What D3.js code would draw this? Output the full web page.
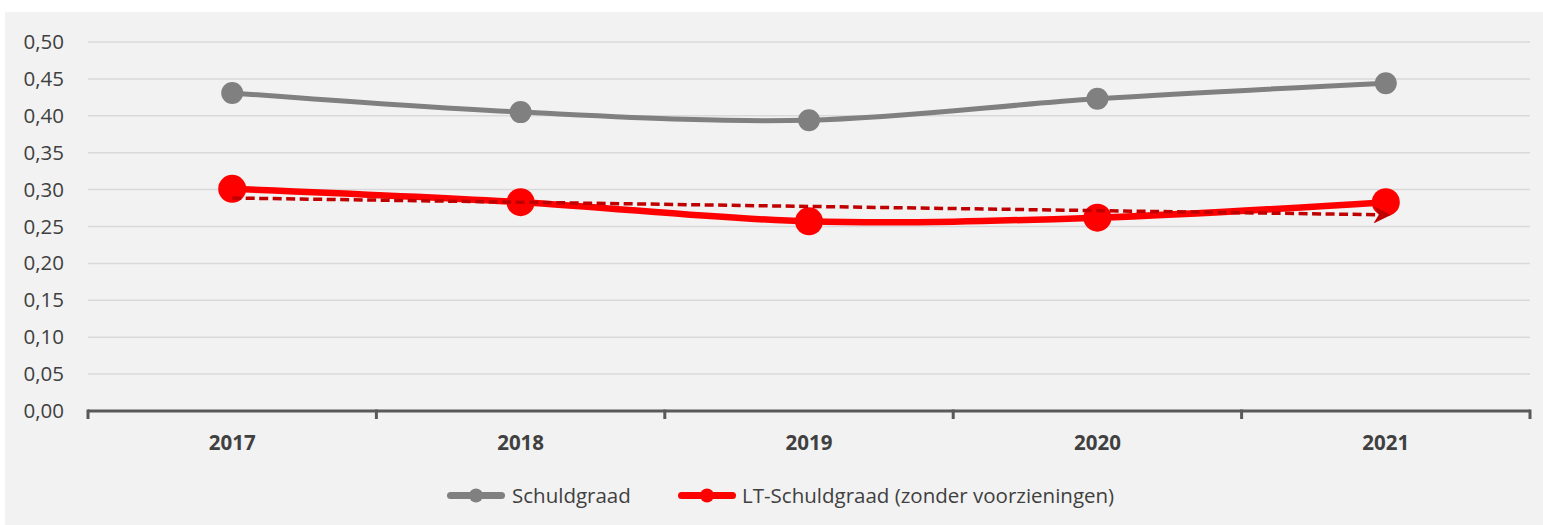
<!DOCTYPE html>
<html>
<head>
<meta charset="utf-8">
<script src="https://cdn.jsdelivr.net/npm/d3@7"></script>
<style>
  html, body { margin: 0; padding: 0; background: #ffffff; }
  svg { display: block; }
  text { font-family: "Open Sans", "Noto Sans", sans-serif; }
</style>
</head>
<body>
<svg id="chart" width="1543" height="525"></svg>
<script>
// Data
const years = ["2017", "2018", "2019", "2020", "2021"];
const schuldgraad = [0.431, 0.405, 0.394, 0.423, 0.444];
const ltSchuldgraad = [0.301, 0.283, 0.257, 0.262, 0.283];
const yTicks = [0, 0.05, 0.10, 0.15, 0.20, 0.25, 0.30, 0.35, 0.40, 0.45, 0.50];
const seriesNames = ["Schuldgraad", "LT-Schuldgraad (zonder voorzieningen)"];

const W = 1543, H = 525;
const plot = { left: 88, right: 1530, top: 42, bottom: 411 };
const FONT = 20.5;

const svg = d3.select("#chart");

// chart background
svg.append("rect")
  .attr("x", 5).attr("y", 12)
  .attr("width", W - 5).attr("height", H - 12)
  .attr("fill", "#f2f2f2");

const x = d3.scaleBand().domain(years).range([plot.left, plot.right]);
const y = d3.scaleLinear().domain([0, 0.5]).range([plot.bottom, plot.top]);
const cx = d => x(d) + x.bandwidth() / 2;

const fmt = v => d3.format(".2f")(v).replace(".", ",");

// horizontal gridlines
svg.append("g")
  .selectAll("line")
  .data(yTicks.filter(t => t > 0))
  .join("line")
  .attr("x1", plot.left).attr("x2", plot.right)
  .attr("y1", d => y(d)).attr("y2", d => y(d))
  .attr("stroke", "#d9d9d9").attr("stroke-width", 1.5);

// y axis labels
const yAxis = d3.axisLeft(y).tickValues(yTicks).tickFormat(fmt).tickSize(0).tickPadding(0);
const gy = svg.append("g").attr("transform", `translate(64,0)`).call(yAxis);
gy.select(".domain").remove();
gy.selectAll("text")
  .attr("font-size", FONT).attr("fill", "#404040")
  .attr("font-family", "'Open Sans', sans-serif");

// x axis
const xAxis = d3.axisBottom(x).tickSize(0).tickPadding(0);
const gx = svg.append("g").attr("transform", `translate(0,${plot.bottom})`).call(xAxis);
gx.select(".domain").remove();
gx.selectAll("text")
  .attr("y", 39).attr("dy", null)
  .attr("font-size", FONT).attr("font-weight", "bold").attr("fill", "#404040")
  .attr("font-family", "'Open Sans', sans-serif");

// axis baseline and category boundary ticks
svg.append("line")
  .attr("x1", plot.left).attr("x2", plot.right)
  .attr("y1", plot.bottom).attr("y2", plot.bottom)
  .attr("stroke", "#595959").attr("stroke-width", 3);
const bounds = years.map(d => x(d)).concat([x(years[years.length - 1]) + x.bandwidth()]);
svg.append("g").selectAll("line")
  .data(bounds)
  .join("line")
  .attr("x1", d => d).attr("x2", d => d)
  .attr("y1", plot.bottom - 1.5).attr("y2", plot.bottom + 8)
  .attr("stroke", "#595959").attr("stroke-width", 3);

const line = d3.line().x((d, i) => cx(years[i])).y(d => y(d)).curve(d3.curveCatmullRom.alpha(0.5));

// Schuldgraad
svg.append("path")
  .datum(schuldgraad)
  .attr("d", line)
  .attr("fill", "none").attr("stroke", "#808080").attr("stroke-width", 5)
  .attr("stroke-linejoin", "round");
svg.append("g").selectAll("circle")
  .data(schuldgraad)
  .join("circle")
  .attr("cx", (d, i) => cx(years[i])).attr("cy", d => y(d))
  .attr("r", 11).attr("fill", "#808080");

// LT-Schuldgraad
svg.append("path")
  .datum(ltSchuldgraad)
  .attr("d", line)
  .attr("fill", "none").attr("stroke", "#ff0000").attr("stroke-width", 6.5)
  .attr("stroke-linejoin", "round");
svg.append("g").selectAll("circle")
  .data(ltSchuldgraad)
  .join("circle")
  .attr("cx", (d, i) => cx(years[i])).attr("cy", d => y(d))
  .attr("r", 14).attr("fill", "#ff0000");

// linear trendline of LT-Schuldgraad (least squares)
const n = ltSchuldgraad.length;
const xs = d3.range(n);
const mx = d3.mean(xs), my = d3.mean(ltSchuldgraad);
const slope = d3.sum(xs, i => (i - mx) * (ltSchuldgraad[i] - my)) / d3.sum(xs, i => (i - mx) ** 2);
const icpt = my - slope * mx;
const trend = xs.map(i => icpt + slope * i);

svg.append("defs").append("marker")
  .attr("id", "arrow")
  .attr("viewBox", "0 0 10 10")
  .attr("refX", 7).attr("refY", 5)
  .attr("markerWidth", 5).attr("markerHeight", 5)
  .attr("markerUnits", "strokeWidth")
  .attr("orient", "auto")
  .append("path")
  .attr("d", "M0,0 L10,5 L0,10 L3,5 Z")
  .attr("fill", "#c00000");

svg.append("path")
  .datum(trend)
  .attr("d", d3.line().x((d, i) => cx(years[i])).y(d => y(d)))
  .attr("fill", "none").attr("stroke", "#c00000").attr("stroke-width", 3.5)
  .attr("stroke-dasharray", "9,4.5")
  .attr("marker-end", "url(#arrow)");

// legend
const legend = [
  { name: seriesNames[0], color: "#808080", x0: 447, tx: 512 },
  { name: seriesNames[1], color: "#ff0000", x0: 678, tx: 742 }
];
const ly = 495.5;
const lg = svg.append("g").selectAll("g").data(legend).join("g");
lg.append("line")
  .attr("x1", d => d.x0 + 3.5).attr("x2", d => d.x0 + 54.5)
  .attr("y1", ly).attr("y2", ly)
  .attr("stroke", d => d.color).attr("stroke-width", 7)
  .attr("stroke-linecap", "round");
lg.append("circle")
  .attr("cx", d => d.x0 + 29).attr("cy", ly).attr("r", 7)
  .attr("fill", d => d.color);
lg.append("text")
  .attr("x", d => d.tx).attr("y", ly).attr("dy", "0.35em")
  .attr("font-size", FONT).attr("fill", "#404040")
  .text(d => d.name);
</script>
</body>
</html>
